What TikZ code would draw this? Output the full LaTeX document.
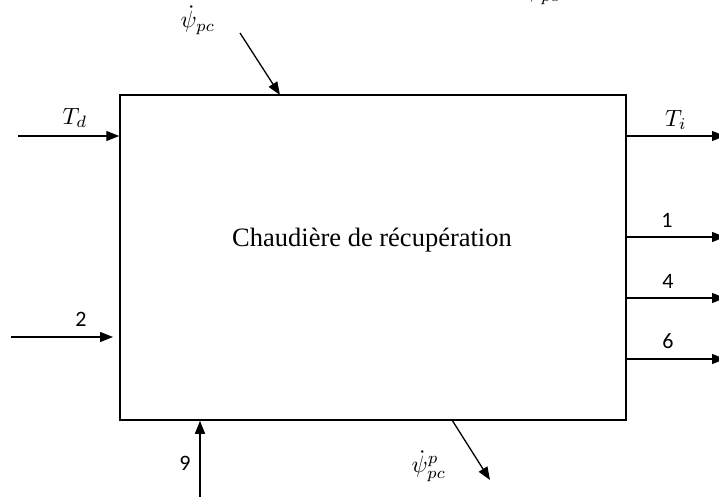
\documentclass[tikz,border=0pt]{standalone}
\usepackage{fontspec}
\setmainfont{Liberation Serif}
\newfontfamily\digitfont{Carlito}
\usetikzlibrary{arrows.meta}
\tikzset{
  x=1pt, y=-1pt,
  arr/.style={line width=1.3pt, -{Triangle[length=13pt,width=10pt]}},
  mathlbl/.style={inner sep=0pt, font=\fontsize{10}{12}\selectfont, scale=2.35},
  numlbl/.style={inner sep=0pt, font=\digitfont\fontsize{22}{26}\selectfont},
  boxstyle/.style={draw, line width=1.5pt, minimum width=506pt, minimum height=325pt, inner sep=0pt}
}
\begin{document}
\begin{tikzpicture}
\useasboundingbox (0,0) rectangle (719,497);
% main block
\node[boxstyle] (box) at (373,257.5) {};
\node[inner sep=0pt, font=\fontsize{26.5}{30}\selectfont] (title) at (372,240) {Chaudière de récupération};
% clipped fragment at top
\node[mathlbl] (frag) at (543,-10) {$\dot{\psi}_{pc}$};
% inputs
\coordinate (tdS) at (18,136);
\draw[arr] (tdS) -- (tdS -| box.west);
\node[mathlbl] (tdL) at (75,118) {$T_d$};
\coordinate (twoS) at (11,337);
\coordinate (twoE) at (113,337);
\draw[arr] (twoS) -- (twoE);
\node[numlbl] (twoL) at (81,319) {2};
\coordinate (psiS) at (240,33);
\coordinate (psiE) at (280,95);
\draw[arr] (psiS) -- (psiE);
\node[mathlbl] (psiL) at (198,20) {$\dot{\psi}_{pc}$};
\coordinate (nineS) at (200,497);
\draw[arr] (nineS) -- (nineS |- box.south);
\node[numlbl] (nineL) at (185,463) {9};
% outputs
\coordinate (tiE) at (725,136);
\draw[arr] (tiE -| box.east) -- (tiE);
\node[mathlbl] (tiL) at (676,120) {$T_i$};
\coordinate (oneE) at (725,237);
\draw[arr] (oneE -| box.east) -- (oneE);
\node[numlbl] (oneL) at (667,220) {1};
\coordinate (fourE) at (725,298);
\draw[arr] (fourE -| box.east) -- (fourE);
\node[numlbl] (fourL) at (668,281) {4};
\coordinate (sixE) at (725,359);
\draw[arr] (sixE -| box.east) -- (sixE);
\node[numlbl] (sixL) at (668,341) {6};
\coordinate (ppS) at (452,420);
\coordinate (ppE) at (490,480);
\draw[arr] (ppS) -- (ppE);
\node[mathlbl] (ppL) at (429,466) {$\dot{\psi}_{pc}^{p}$};
\end{tikzpicture}
\end{document}
